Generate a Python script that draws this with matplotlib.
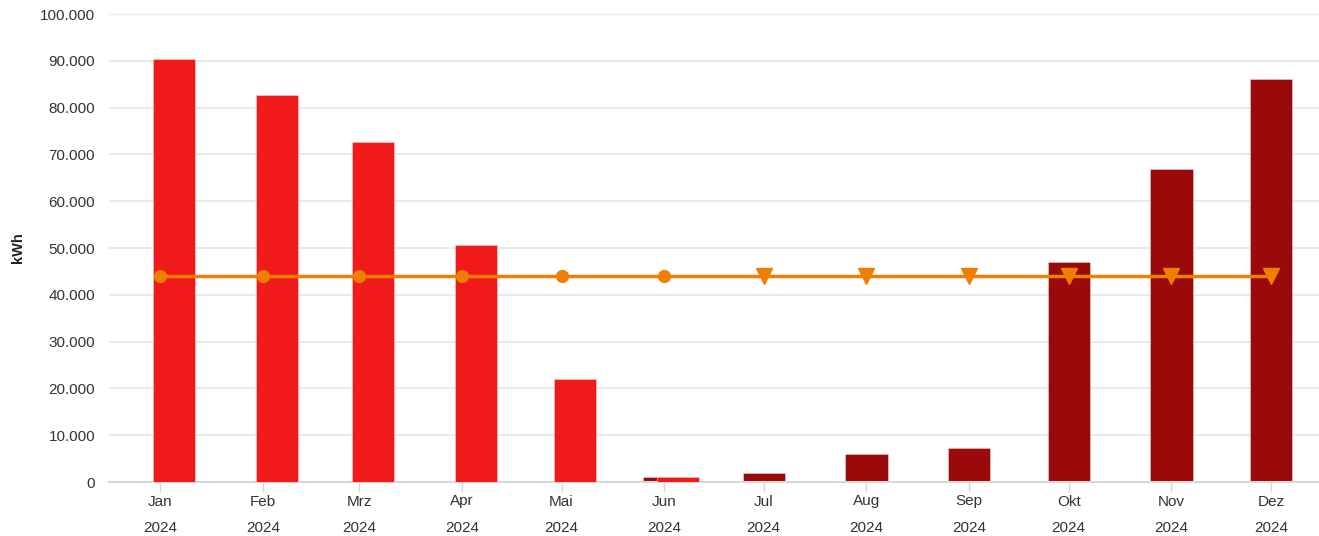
import matplotlib
matplotlib.use("Agg")
import matplotlib.pyplot as plt
import matplotlib.dates as mdates
from matplotlib.ticker import FuncFormatter, MultipleLocator
from datetime import datetime, timedelta

plt.rcParams['font.family'] = ['Liberation Sans', 'DejaVu Sans']

months = ["Jan", "Feb", "Mrz", "Apr", "Mai", "Jun", "Jul", "Aug", "Sep", "Okt", "Nov", "Dez"]
year = 2024
# actual consumption (bright red), Jan..Jun
actual_months = [1, 2, 3, 4, 5, 6]
actual_values = [90400, 82700, 72600, 50600, 22000, 1100]
# forecast / other series (dark red), Jun..Dez
forecast_months = [6, 7, 8, 9, 10, 11, 12]
forecast_values = [1000, 1900, 6000, 7300, 47000, 66900, 86100]
# reference line
line_value = 44000
line_circle_months = [1, 2, 3, 4, 5, 6]
line_tri_months = [7, 8, 9, 10, 11, 12]

bright = "#F11A1A"
dark = "#9A0A0A"
orange = "#EE7F00"

fig = plt.figure(figsize=(13.19, 5.36), dpi=100)
ax = fig.add_axes([109/1319, 54/536, 1 - 109/1319, (482-14)/536])

def d(m):
    return datetime(year, m, 1)

bar_w = 12.7
ax.bar([d(m) for m in forecast_months], forecast_values, width=bar_w, color=dark,
       edgecolor="#f3d0d0", linewidth=0.4, zorder=2)
ax.bar([d(m) + timedelta(days=4.1) for m in actual_months], actual_values, width=bar_w, color=bright,
       edgecolor="#f8d0d0", linewidth=0.4, zorder=3)

all_m = line_circle_months + line_tri_months
ax.plot([d(m) for m in all_m], [line_value]*len(all_m), color=orange, lw=2.5, zorder=4)
ax.plot([d(m) for m in line_circle_months], [line_value]*len(line_circle_months), 'o',
        color=orange, ms=8.5, zorder=5)
ax.plot([d(m) for m in line_tri_months], [line_value]*len(line_tri_months), 'v',
        color=orange, ms=11, zorder=5)

ax.set_xlim(datetime(2023, 12, 16, 12), datetime(2024, 12, 15, 12))
ax.set_ylim(0, 100000)
ax.yaxis.set_major_locator(MultipleLocator(10000))
ax.yaxis.set_major_formatter(FuncFormatter(lambda v, p: f"{int(v):,}".replace(",", ".")))
ax.set_xticks([d(m) for m in range(1, 13)])
ax.set_xticklabels([f"{mn}\n{year}" for mn in months], linespacing=2.15)

ax.grid(axis='y', color='#e6e6e6', lw=1.2, zorder=0)
ax.set_axisbelow(True)
for s in ['top', 'right', 'left']:
    ax.spines[s].set_visible(False)
ax.spines['bottom'].set_color('#d8d8d8')
ax.spines['bottom'].set_linewidth(1.5)
ax.tick_params(axis='y', length=0, pad=10, labelsize=11, labelcolor='#333333')
ax.tick_params(axis='x', length=7, width=1, color='#d8d8d8', pad=2, labelsize=11, labelcolor='#333333')

fig.text(18/1319, 1 - 248/536, "kWh", rotation=90, fontweight='bold', fontsize=10.5,
         color='#222222', ha='center', va='center')

fig.savefig("out.png", dpi=100)
